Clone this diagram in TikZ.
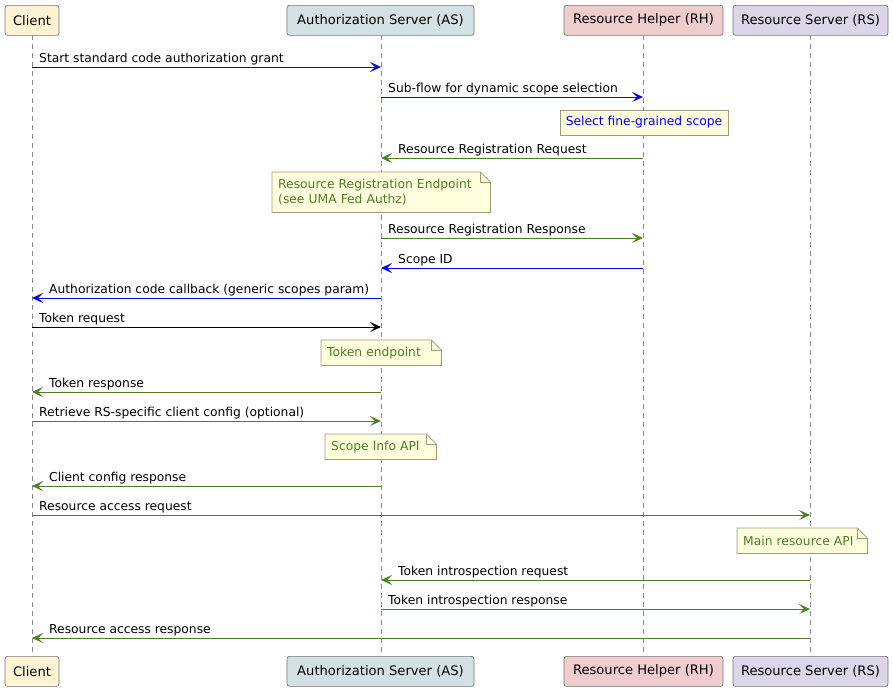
\documentclass[tikz,border=0pt]{standalone}
\usepackage{fontspec}
\setmainfont{DejaVu Sans}
\usetikzlibrary{arrows.meta}
\definecolor{cC}{HTML}{FEF4D3}
\definecolor{cAS}{HTML}{D4E1E4}
\definecolor{cRH}{HTML}{EFCDCD}
\definecolor{cRS}{HTML}{DCD6E9}
\definecolor{notefill}{HTML}{FDFFDC}
\definecolor{noteline}{HTML}{9C9C78}
\definecolor{grn}{HTML}{4E7D2A}
\definecolor{blu}{HTML}{0000FF}
\definecolor{life}{HTML}{8A8A8A}
\tikzset{
  part/.style={draw=black!55, line width=0.7pt, rounded corners=2.5pt, minimum height=30pt, inner sep=0pt, font=\fontsize{13.1}{15}\selectfont, anchor=north},
  msgl/.style={font=\fontsize{12.3}{14}\selectfont, anchor=base west, inner sep=0pt},
  arr/.style={-{Stealth[length=11pt,width=10pt,inset=5pt]}, line width=0.9pt},
  notet/.style={anchor=north west, inner xsep=6pt, inner ysep=0pt, align=left, font=\fontsize{12.3}{15}\selectfont},
  notebox/.style={draw=noteline, fill=notefill, line width=0.7pt},
  lifeline/.style={draw=life, dashed, dash pattern=on 5pt off 4pt, line width=0.7pt}
}
\newcommand\foldnote[1]{%
  \path[notebox] (#1.south west) -- (#1.north west) -- ([xshift=-10pt]#1.north east) -- ([yshift=-10pt]#1.north east) -- (#1.south east) -- cycle;
  \draw[noteline, line width=0.7pt] ([xshift=-10pt]#1.north east) -- ([xshift=-10pt,yshift=-10pt]#1.north east) -- ([yshift=-10pt]#1.north east);
}
\begin{document}
\begin{tikzpicture}[x=1pt,y=-1pt]
\useasboundingbox (0,0) rectangle (893,691);
% participants
\node[part, fill=cC,  minimum width=54pt]  (cT)  at (32,5)  {Client};
\node[part, fill=cAS, minimum width=187pt] (asT) at (380.5,5) {Authorization Server (AS)};
\node[part, fill=cRH, minimum width=159pt] (rhT) at (643.5,5) {Resource Helper (RH)};
\node[part, fill=cRS, minimum width=155pt] (rsT) at (810.5,5) {Resource Server (RS)};
\node[part, fill=cC,  minimum width=54pt]  (cB)  at (32,656)  {Client};
\node[part, fill=cAS, minimum width=187pt] (asB) at (380.5,656) {Authorization Server (AS)};
\node[part, fill=cRH, minimum width=159pt] (rhB) at (643.5,656) {Resource Helper (RH)};
\node[part, fill=cRS, minimum width=155pt] (rsB) at (810.5,656) {Resource Server (RS)};
% lifelines
\coordinate (cTl) at (32,35);   \coordinate (cBl) at (32,656);
\coordinate (asTl) at (381,35); \coordinate (asBl) at (381,656);
\coordinate (rhTl) at (643,35); \coordinate (rhBl) at (643,656);
\coordinate (rsTl) at (810,35); \coordinate (rsBl) at (810,656);
\draw[lifeline] (cTl) -- (cBl);
\draw[lifeline] (asTl) -- (asBl);
\draw[lifeline] (rhTl) -- (rhBl);
\draw[lifeline] (rsTl) -- (rsBl);
% notes
\node[notet, notebox, anchor=center, minimum height=25pt, minimum width=168pt, inner xsep=0pt, text=blu] (n1) at (644,122.5) {Select fine-grained scope};

\node[notet, minimum height=40pt, text width=206pt] (n2) at (272,172) {};
\foldnote{n2}
\node[notet, minimum height=40pt, text width=206pt, text=grn] (n2t) at (272,172) {Resource Registration Endpoint\\(see UMA Fed Authz)};

\node[notet, minimum height=25pt, text width=108pt] (n3) at (321,340) {};
\foldnote{n3}
\node[notet, minimum height=25pt, text width=108pt, text=grn] (n3t) at (321,340) {Token endpoint};

\node[notet, minimum height=25pt, text width=99pt] (n4) at (325,434) {};
\foldnote{n4}
\node[notet, minimum height=25pt, text width=99pt, text=grn] (n4t) at (325,434) {Scope Info API};

\node[notet, minimum height=25pt, text width=118pt] (n5) at (737,528) {};
\foldnote{n5}
\node[notet, minimum height=25pt, text width=118pt, text=grn] (n5t) at (737,528) {Main resource API};

% messages: coordinates on lifelines
\foreach \n/\fx/\tx/\y in {1/32/381/67, 2/381/643/97, 3/643/381/158, 4/381/643/238, 5/643/381/268, 6/381/32/298, 7/32/381/327, 8/381/32/392, 9/32/381/421, 10/381/32/486, 11/32/810/515, 12/810/381/580, 13/381/810/609, 14/810/32/638}
  {\coordinate (m\n a) at (\fx,\y); \coordinate (m\n b) at (\tx,\y);}

\draw[arr, blu] (m1a) -- (m1b);
\node[msgl] (l1) at ([xshift=7pt,yshift=5pt]m1a) {Start standard code authorization grant};
\draw[arr, blu] (m2a) -- (m2b);
\node[msgl] (l2) at ([xshift=7pt,yshift=5pt]m2a) {Sub-flow for dynamic scope selection};
\draw[arr, grn] (m3a) -- (m3b);
\node[msgl] (l3) at ([xshift=17pt,yshift=5pt]m3b) {Resource Registration Request};
\draw[arr, grn] (m4a) -- (m4b);
\node[msgl] (l4) at ([xshift=7pt,yshift=5pt]m4a) {Resource Registration Response};
\draw[arr, blu] (m5a) -- (m5b);
\node[msgl] (l5) at ([xshift=17pt,yshift=5pt]m5b) {Scope ID};
\draw[arr, blu] (m6a) -- (m6b);
\node[msgl] (l6) at ([xshift=17pt,yshift=5pt]m6b) {Authorization code callback (generic scopes param)};
\draw[arr, black] (m7a) -- (m7b);
\node[msgl] (l7) at ([xshift=7pt,yshift=5pt]m7a) {Token request};
\draw[arr, grn] (m8a) -- (m8b);
\node[msgl] (l8) at ([xshift=17pt,yshift=5pt]m8b) {Token response};
\draw[arr, grn] (m9a) -- (m9b);
\node[msgl] (l9) at ([xshift=7pt,yshift=5pt]m9a) {Retrieve RS-specific client config (optional)};
\draw[arr, grn] (m10a) -- (m10b);
\node[msgl] (l10) at ([xshift=17pt,yshift=5pt]m10b) {Client config response};
\draw[arr, grn] (m11a) -- (m11b);
\node[msgl] (l11) at ([xshift=7pt,yshift=5pt]m11a) {Resource access request};
\draw[arr, grn] (m12a) -- (m12b);
\node[msgl] (l12) at ([xshift=17pt,yshift=5pt]m12b) {Token introspection request};
\draw[arr, grn] (m13a) -- (m13b);
\node[msgl] (l13) at ([xshift=7pt,yshift=5pt]m13a) {Token introspection response};
\draw[arr, grn] (m14a) -- (m14b);
\node[msgl] (l14) at ([xshift=17pt,yshift=5pt]m14b) {Resource access response};
\end{tikzpicture}
\end{document}
